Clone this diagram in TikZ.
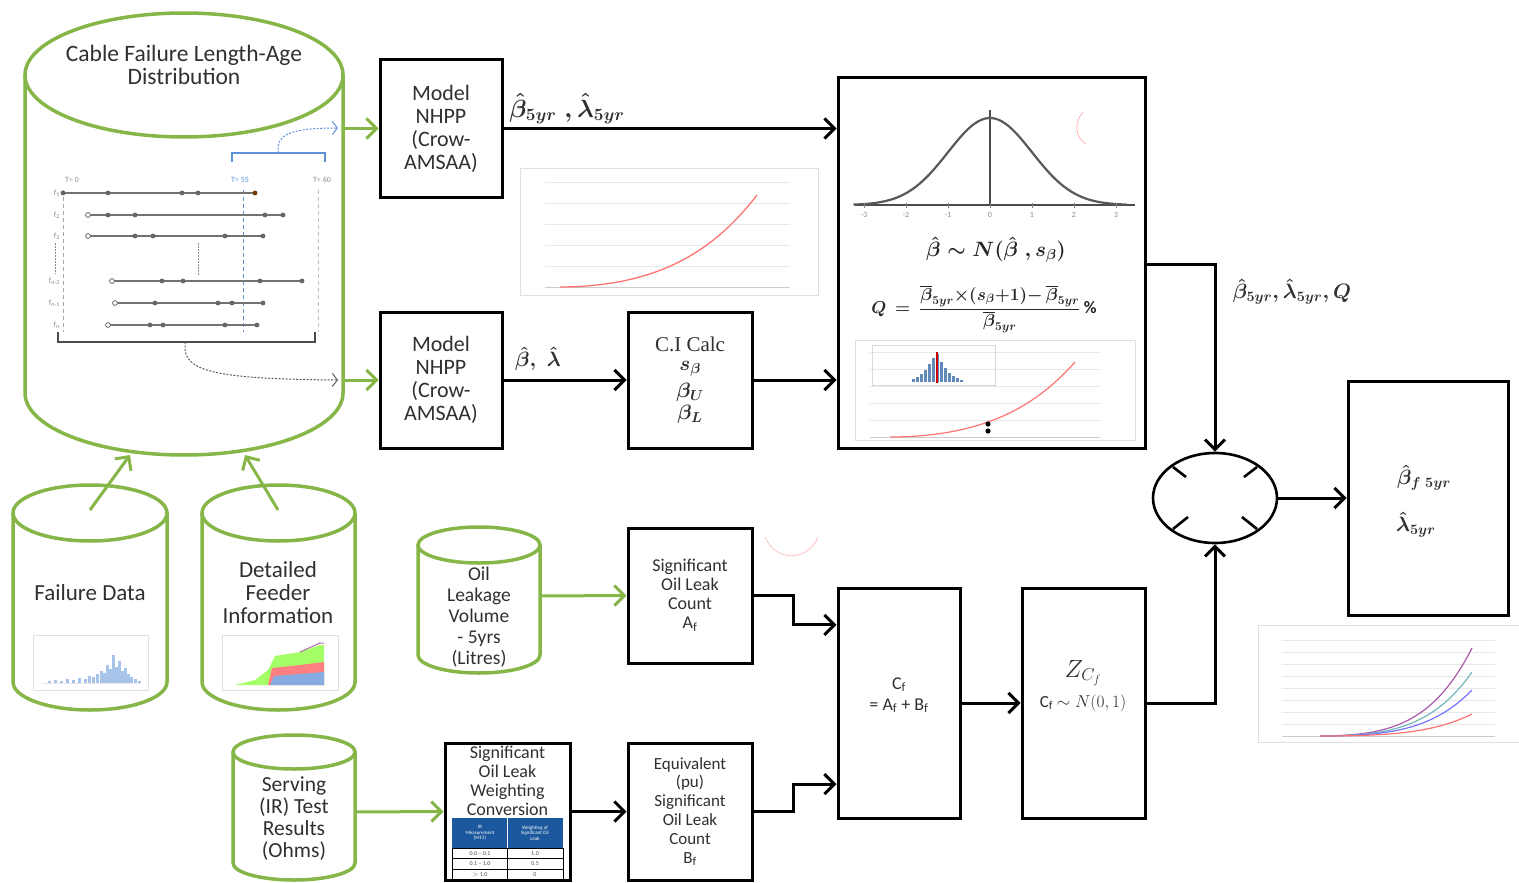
\documentclass[tikz,border=0pt]{standalone}
\usepackage{fontspec}
\setmainfont{Carlito}
\newfontfamily\calcfont{Liberation Serif}
\usepackage{amsmath}
\usetikzlibrary{arrows.meta,shapes.geometric,calc}

\definecolor{leaf}{RGB}{134,182,72}
\definecolor{ink}{RGB}{48,48,48}
\definecolor{sky}{RGB}{95,145,215}
\definecolor{navy}{RGB}{28,88,158}

\newcommand\fbig{\fontsize{22}{23}\selectfont}
\newcommand\fmid{\fontsize{18}{19}\selectfont}
\newcommand\fmath{\fontsize{23}{25}\selectfont\boldmath}

% storage cylinder: left x, right x, top centre y, bottom centre y, end radius
\newcommand\dbcyl[5]{%
  \draw[gline] (#1,#3) -- (#1,#4)
    arc[start angle=180,end angle=360,x radius={(#2-#1)/2*1pt},y radius={#5*1pt}] -- (#2,#3);
  \draw[gline] ({(#1+#2)/2},#3) ellipse[x radius={(#2-#1)/2*1pt},y radius={#5*1pt}];
}

\tikzset{
  blk/.style={draw=black, line width=3pt, fill=white, inner sep=0pt, text=ink, align=center},
  arr/.style={line width=3pt, -{Straight Barb[length=10pt,width=20pt]}},
  garr/.style={draw=leaf, line width=3pt, -{Straight Barb[length=10pt,width=20pt]}},
  gline/.style={draw=leaf, line width=3.5pt},
  cyltext/.style={text=ink, align=center, inner sep=0pt},
  tl/.style={draw=black!55, line width=1.3pt},
  guide/.style={line width=1pt, dash pattern=on 4pt off 3pt},
  thinarr/.style={line width=1pt, dash pattern=on 2pt off 1.5pt, -{Straight Barb[length=5pt,width=13pt]}},
  faint/.style={draw=black!12, line width=0.7pt},
  grid/.style={draw=black!9, line width=0.6pt},
  tiny/.style={text=black!45, font=\fontsize{8}{9}\selectfont, inner sep=0pt},
}

\begin{document}
\begin{tikzpicture}[x=1pt,y=-1pt]
\useasboundingbox (0,0) rectangle (1519,883);

% ---------------- data stores ----------------
\dbcyl{25}{343}{75}{393}{62}
\node[inner sep=0pt, minimum width=318pt, minimum height=442pt] (cab) at (184,234) {};
\node[cyltext, font=\fontsize{23.5}{23}\selectfont] (cab-t) at (184,65) {Cable Failure Length-Age\\Distribution};

\dbcyl{13}{167}{513}{682}{28}
\node[cyltext, font=\fontsize{23}{23}\selectfont] (fd) at (90,593) {Failure Data};
\dbcyl{202}{355}{513}{682}{28}
\node[cyltext, font=\fontsize{23}{23}\selectfont] (ff) at (278,593) {Detailed\\Feeder\\Information};
\dbcyl{418}{540}{545}{655}{18}
\node[cyltext, font=\fontsize{19.5}{21}\selectfont] (oil) at (479,617) {Oil\\Leakage\\Volume\\- 5yrs\\(Litres)};
\dbcyl{233}{355}{752}{863}{17}
\node[cyltext, font=\fontsize{21.5}{22}\selectfont] (srv) at (294,819) {Serving\\(IR) Test\\Results\\(Ohms)};

% ---------------- length-age timeline ----------------
\node[tiny] (t0) at (72,180) {T= 0};
\node[tiny, text=sky] (t55) at (240,180) {T= 55};
\node[tiny] (t60) at (322,180) {T= 60};
\draw[guide, draw=black!35] (63,190) -- (63,332);
\draw[guide, draw=sky] (243,190) -- (243,332);
\draw[guide, draw=black!25] (318,190) -- (318,332);
\foreach \y/\a/\b/\pts/\lab in {
    215/88/283/{108,135,265}/{f\textsubscript{2}},
    236/88/263/{135,153,225}/{f\textsubscript{3}},
    281/112/302/{162,183,260}/{f\textsubscript{n-2}},
    303/115/263/{155,218,232}/{f\textsubscript{n-1}},
    325/108/257/{150,163,225}/{f\textsubscript{n}}}{
  \draw[tl] (\a,\y) -- (\b,\y);
  \foreach \p in \pts {\fill[black!60] (\p,\y) circle[radius=2.4pt];}
  \fill[black!60] (\b,\y) circle[radius=2.4pt];
  \draw[black!60, fill=white, line width=0.8pt] (\a,\y) circle[radius=2.4pt];
  \node[tiny, anchor=east] at (60,\y) {\lab};
}
\draw[tl] (63,193) -- (255,193);
\foreach \p in {63,108,182,198} {\fill[black!60] (\p,193) circle[radius=2.4pt];}
\fill[black!55!orange] (255,193) circle[radius=2.4pt];
\node[tiny, anchor=east] at (60,193) {f\textsubscript{1}};
\draw[black!45, line width=1pt, dash pattern=on 1.5pt off 1.5pt] (198,243) -- (198,276);
\draw[black!45, line width=1pt, dash pattern=on 1.5pt off 1.5pt] (55,243) -- (55,274);
% brackets and their dotted hand-offs
\draw[black!70, line width=1.6pt] (58,332) -- (58,342) -- (315,342) -- (315,332);
\draw[thinarr, draw=black!65] (185,342) -- (185,350) .. controls (188,372) and (220,379) .. (338,380);
\draw[sky, line width=1.6pt] (232,162) -- (232,153) -- (325,153) -- (325,162);
\draw[thinarr, draw=sky] (278,153) -- (278,146) .. controls (280,132) and (300,128) .. (338,128);

% ---------------- dataset thumbnails ----------------
\draw[faint] (33,635) rectangle (148,690);
\draw[grid] (42,683) -- (140,683);
\foreach \x/\h in {48/2,54/3,60/2,66/4,72/3,78/5,84/4,88/7,92/6,96/9,100/12,103/10,106/18,109/14,112/28,115/16,118/22,121/12,124/15,127/9,130/6,134/4,138/2}
  {\fill[sky!55] (\x,683) rectangle ++(3,-\h);}
\draw[faint] (222,635) rectangle (338,690);
\fill[green!45!lime!60!white] (235,685) -- (255,680) -- (268,670) -- (275,656) -- (300,652) -- (320,645) -- (324,645) -- (324,685) -- cycle;
\fill[red!50!white] (268,685) -- (272,668) -- (300,665) -- (324,662) -- (324,685) -- cycle;
\fill[sky!75] (270,685) -- (274,676) -- (324,672) -- (324,685) -- cycle;
\draw[violet!60, line width=1pt] (300,652) -- (320,643) -- (324,643);

% ---------------- processing blocks ----------------
\node[blk, minimum width=122pt, minimum height=137pt, font=\fbig] (m1) at (441,128.5) {Model\\NHPP\\(Crow-\\AMSAA)};
\node[blk, minimum width=122pt, minimum height=136pt, font=\fbig] (m2) at (441,380) {Model\\NHPP\\(Crow-\\AMSAA)};
\node[blk, minimum width=124pt, minimum height=136pt] (ci) at (690,380) {};
\node[cyltext, font=\calcfont\fontsize{21}{22}\selectfont] (ci-t) at (690,344) {C.I Calc};
\node[cyltext, font=\fontsize{22}{22}\selectfont\boldmath] (ci-s) at (690,369) {$s_{\beta}$};
\node[cyltext, font=\fontsize{22}{22}\selectfont\boldmath] (ci-u) at (690,392) {$\beta_{U}$};
\node[cyltext, font=\fontsize{22}{22}\selectfont\boldmath] (ci-l) at (690,414) {$\beta_{L}$};
\node[blk, minimum width=307pt, minimum height=370pt] (big) at (991.5,263) {};
\node[blk, minimum width=124pt, minimum height=135pt, font=\fmid] (sol) at (690,595.5)
  {Significant\\Oil Leak\\Count\\A\textsubscript{f}};
\node[blk, minimum width=122pt, minimum height=230pt] (cf) at (899,703) {};
\node[cyltext, font=\fontsize{18}{21}\selectfont] (cf-t) at (899,695) {C\textsubscript{f}\\= A\textsubscript{f} + B\textsubscript{f}};
\node[blk, minimum width=123pt, minimum height=230pt] (z) at (1083.5,703) {};
\node[cyltext, font=\fontsize{25}{26}\selectfont] (z-t1) at (1083,673) {$Z_{C_f}$};
\node[cyltext, font=\fontsize{17}{20}\selectfont] (z-t2) at (1083,703) {C\textsubscript{f} $\sim N(0,1)$};
\node[blk, minimum width=125pt, minimum height=137pt] (wt) at (507.5,811.5) {};
\node[cyltext, font=\fmid, anchor=north] (wt-t) at (507.5,746) {Significant\\Oil Leak\\Weighting\\Conversion};
\node[blk, minimum width=124pt, minimum height=137pt, font=\fontsize{17}{18.8}\selectfont] (eq) at (690,811.5)
  {Equivalent\\(pu)\\Significant\\Oil Leak\\Count\\B\textsubscript{f}};
\node[draw=black, line width=2.6pt, shape=ellipse, minimum width=124pt, minimum height=90pt, inner sep=0pt] (sum) at (1215,498) {};
\node[blk, minimum width=160pt, minimum height=234pt] (out) at (1428,498) {};
\node[cyltext, font=\fontsize{22}{24}\selectfont\boldmath] (out-b) at (1424,478) {$\hat{\beta}_{f\;5yr}$};
\node[cyltext, font=\fontsize{22}{24}\selectfont\boldmath] (out-l) at (1416,525) {$\hat{\lambda}_{5yr}$};

% summing junction marks
\foreach \a/\b in {{-42,-31}/{-29,-21},{29,-21}/{42,-31},{-42,31}/{-27,19},{27,19}/{42,31}}
  {\draw[line width=2.6pt] ($(sum.center)+(\a)$) -- ($(sum.center)+(\b)$);}

% weighting table
\fill[navy] (452,818) rectangle (563,848);
\draw[white, line width=0.8pt] (507.5,818) -- (507.5,848);
\node[text=white, align=center, font=\fontsize{5}{5.5}\selectfont, inner sep=0pt] (wh1) at (480,833) {IR\\Measurement\\(M$\Omega$)};
\node[text=white, align=center, font=\fontsize{5}{5.5}\selectfont, inner sep=0pt] (wh2) at (535,833) {Weighting of\\Significant Oil\\Leak};
\draw[black, line width=0.8pt] (452,848) rectangle (563,880) (452,858.5) -- (563,858.5) (452,869) -- (563,869) (507.5,848) -- (507.5,880);
\node[tiny, text=black!70, font=\fontsize{6}{6}\selectfont] (wr1) at (480,853.5) {0.0 -- 0.1};
\node[tiny, text=black!70, font=\fontsize{6}{6}\selectfont] (wv1) at (535,853.5) {1.0};
\node[tiny, text=black!70, font=\fontsize{6}{6}\selectfont] (wr2) at (480,864) {0.1 -- 1.0};
\node[tiny, text=black!70, font=\fontsize{6}{6}\selectfont] (wv2) at (535,864) {0.5};
\node[tiny, text=black!70, font=\fontsize{6}{6}\selectfont] (wr3) at (480,874.5) {$>$ 1.0};
\node[tiny, text=black!70, font=\fontsize{6}{6}\selectfont] (wv3) at (535,874.5) {0};

% ---------------- content of the distribution block ----------------
\draw[black!70, line width=2pt] (855,205) -- (1135,205);
\draw[black!70, line width=2pt] (990,110) -- (990,205);
\draw[black!65, line width=2.2pt] plot[domain=-3.25:3.25, samples=80, smooth] ({990+42*\x},{205-87*exp(-\x*\x/2)});
\foreach \k in {-3,...,3} {
  \draw[black!50, line width=0.8pt] ({990+42*\k},203) -- ({990+42*\k},208);
  \node[tiny] at ({990+42*\k},215) {\k};
}
\node[cyltext, text=black!85, font=\fontsize{20}{22}\selectfont\boldmath] (fn) at (996,250) {$\hat{\beta} \sim N(\hat{\beta}\;, s_{\beta})$};
\node[cyltext, text=black!85, font=\fontsize{17.5}{20}\selectfont\boldmath] (fq) at (984,309)
  {$Q\,=\,\dfrac{\overline{\beta}_{5yr}{\times}(s_{\beta}{+}1){-}\,\overline{\beta}_{5yr}}{\overline{\beta}_{5yr}}\,\%$};
\draw[faint] (855,340) rectangle (1135,440);
\foreach \y in {352,369,386,403,420} {\draw[grid] (870,\y) -- (1100,\y);}
\draw[black!20, line width=0.7pt] (870,437) -- (1100,437);
\draw[black!15, line width=0.7pt] (872,345) rectangle (995,385);
\foreach \x/\h in {912/3,916/5,920/8,924/12,928/18,932/24,936/28,940/20,944/14,948/9,952/6,956/4,960/2}
  {\fill[navy!70] (\x,382) rectangle ++(3,-\h);}
\draw[red!80!black, line width=1.5pt] (937,352) -- (937,383);
\draw[red!55, line width=1.2pt] plot[domain=0:1, samples=40, smooth] ({890+185*\x},{437-75*(0.6*\x*\x+0.4*\x*\x*\x*\x)});
\fill[black] (988,424) circle[radius=2.6pt] (988,431) circle[radius=2.6pt];

% ---------------- result thumbnails ----------------
\draw[faint] (520,168) rectangle (818,295);
\foreach \y in {182,203,224,245,266} {\draw[grid] (545,\y) -- (790,\y);}
\draw[black!20, line width=0.7pt] (545,287) -- (790,287);
\draw[red!55, line width=1.3pt] plot[domain=0:1, samples=40, smooth] ({560+197*\x},{287-92*(0.6*\x*\x+0.4*\x*\x*\x*\x)});

\draw[faint] (1258,625) rectangle (1519,742);
\foreach \y in {640,652,664,676,688,700,712,724} {\draw[grid] (1282,\y) -- (1495,\y);}
\draw[black!20, line width=0.7pt] (1282,736) -- (1495,736);
\foreach \c/\h in {violet!65/88,teal!55/64,blue!55/46,red!55/22}
  {\draw[\c, line width=1.2pt] plot[domain=0:1, samples=40, smooth] ({1320+152*\x},{736-\h*(0.3*\x*\x+0.7*\x*\x*\x*\x)});}

% faint red marks
\draw[red!25, line width=0.8pt] (765,537) .. controls (775,562) and (808,562) .. (818,537);
\draw[red!30, line width=0.8pt] (1083,112) .. controls (1074,122) and (1075,138) .. (1086,144);

% ---------------- connectors ----------------
\draw[garr] (cab.east |- m1.west) -- (m1.west);
\draw[garr] (cab.east |- m2.west) -- (m2.west);
\coordinate (fd-up) at (90,510);
\coordinate (ff-up) at (278,510);
\coordinate (cab-in1) at (130,455);
\coordinate (cab-in2) at (245,455);
\draw[garr] (fd-up) -- (cab-in1);
\draw[garr] (ff-up) -- (cab-in2);
\coordinate (oil-r) at (540,596);
\coordinate (srv-r) at (355,812);
\draw[garr] (oil-r) -- (sol.west);
\draw[garr] (srv-r) -- (wt.west);

\draw[arr] (m1.east) -- (m1.east -| big.west);
\draw[arr] (m2.east) -- (ci.west);
\draw[arr] (ci.east) -- (ci.east -| big.west);
\draw[arr] ($(big.north east)!0.505!(big.south east)$) -| (sum.north);
\draw[arr] (z.east) -| (sum.south);
\draw[arr] (sum.east) -- (out.west);
\draw[arr] (cf.east) -- (z.west);
\draw[arr] (wt.east) -- (eq.west);
\draw[arr] (sol.east) -- ++(40,0) |- ($(cf.north west)!0.165!(cf.south west)$);
\draw[arr] (eq.east) -- ++(40,0) |- ($(cf.north west)!0.848!(cf.south west)$);

% arrow labels
\node[cyltext, font=\fmath] (lab1) at (567,109) {$\hat{\beta}_{5yr}\;,\hat{\lambda}_{5yr}$};
\node[cyltext, font=\fontsize{21}{24}\selectfont\boldmath] (lab2) at (538,359) {$\hat{\beta},\;\hat{\lambda}$};
\node[cyltext, font=\fontsize{21.5}{24}\selectfont\boldmath] (lab3) at (1292,292) {$\hat{\beta}_{5yr},\hat{\lambda}_{5yr},Q$};
\end{tikzpicture}
\end{document}
